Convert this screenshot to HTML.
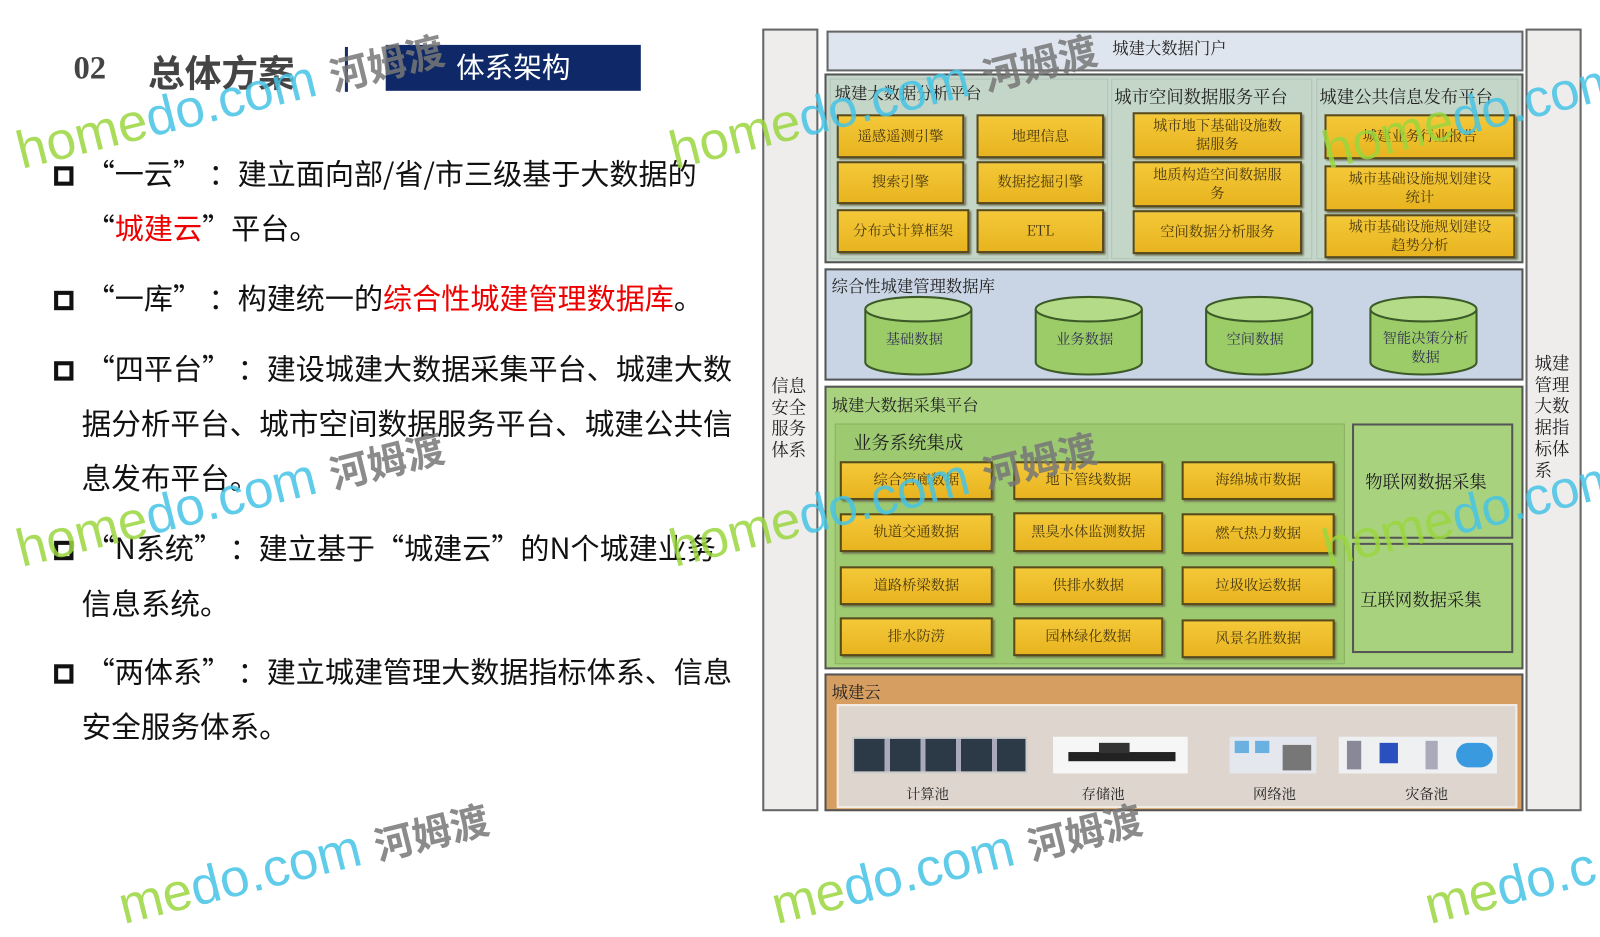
<!DOCTYPE html>
<html><head><meta charset="utf-8"><style>
*{margin:0;padding:0;box-sizing:border-box}
html,body{width:1600px;height:900px;overflow:hidden;background:#fff}
#s{position:absolute;left:0;top:0;width:1568px;height:882px;transform:scale(1.0204);transform-origin:0 0;font-family:"Liberation Sans","Noto Sans CJK SC",sans-serif}
.a{position:absolute}
.t{position:absolute;font-size:28px;color:#111;white-space:nowrap;line-height:1;font-family:"Noto Sans CJK SC",sans-serif}
.t1{left:84px;font-size:28.5px}
.sq{position:absolute;left:53px;width:19px;height:19px;border:4px solid #111}
.r{color:#e00}
.sf{font-family:"Liberation Serif","Noto Serif CJK SC",serif}
.y{position:absolute;background:linear-gradient(#f4c838,#e8b420);border:2px solid #5a4a18;box-shadow:2px 2px 2px #6a6a50;display:flex;align-items:center;justify-content:center;text-align:center;font-family:"Noto Serif CJK SC",serif;font-size:14px;color:#4a3a10;line-height:1.25}
.ttl{position:absolute;font-family:"Noto Serif CJK SC",serif;font-size:16px;color:#222;white-space:nowrap}
.wm{position:absolute;font-size:52px;white-space:nowrap;transform:rotate(-14deg);transform-origin:0 0;opacity:.85}
.wm b{color:#9ad63e;font-weight:normal}.wm i{color:#46c4e6;font-style:normal}
.wm span{color:#777;font-weight:bold;font-size:38px}
</style></head><body><div id="s">
<div class="a sf" style="left:72px;top:48px;font-size:32px;font-weight:bold;color:#444">02</div>
<div class="a" style="left:145px;top:44px;font-size:36px;font-weight:bold;color:#444">总体方案</div>
<div class="a" style="left:338px;top:46px;width:3px;height:44px;background:#1a2f6a"></div>
<div class="a" style="left:378px;top:44px;width:250px;height:45px;background:#0e2868;color:#fff;font-size:28px;text-align:center;line-height:45px">体系架构</div>

<div class="sq" style="top:163px"></div><div class="t t1" style="top:156px">“一云” ：建立面向部/省/市三级基于大数据的</div>
<div class="t t1" style="top:209px">“<span class="r">城建云</span>”平台。</div>
<div class="sq" style="top:285px"></div><div class="t t1" style="top:278px">“一库” ：构建统一的<span class="r">综合性城建管理数据库</span>。</div>
<div class="sq" style="top:354px"></div><div class="t t1" style="top:347px">“四平台” ：建设城建大数据采集平台、城建大数</div>
<div class="t" style="left:80px;top:400px;font-size:29px">据分析平台、城市空间数据服务平台、城建公共信</div>
<div class="t" style="left:80px;top:453px;font-size:29px">息发布平台。</div>
<div class="sq" style="top:530px"></div><div class="t t1" style="top:523px">“N系统” ：建立基于“城建云”的N个城建业务</div>
<div class="t" style="left:80px;top:576px;font-size:29px">信息系统。</div>
<div class="sq" style="top:651px"></div><div class="t t1" style="top:644px">“两体系” ：建立城建管理大数据指标体系、信息</div>
<div class="t" style="left:80px;top:697px;font-size:29px">安全服务体系。</div>

<div class="a" style="left:747px;top:28px;width:55px;height:767px;background:#efecec;border:2px solid #666"></div>
<div class="ttl" style="left:756px;top:366px;font-size:17px;line-height:21px;white-space:normal;width:36px">信息安全服务体系</div>
<div class="a" style="left:1495px;top:28px;width:55px;height:767px;background:#efecec;border:2px solid #666"></div>
<div class="ttl" style="left:1504px;top:344px;font-size:17px;line-height:21px;white-space:normal;width:36px">城建管理大数据指标体系</div>

<div class="a" style="left:810px;top:30px;width:683px;height:40px;background:#dfe5ef;border:2px solid #666"></div>
<div class="ttl" style="left:1090px;top:35px">城建大数据门户</div>

<div class="a" style="left:808px;top:72px;width:685px;height:186px;background:#c6d6cc;border:2px solid #555"></div>
<div class="a" style="left:813px;top:77px;width:273px;height:177px;background:#c4d6c8;border:1px solid #b0c4b4"></div>
<div class="a" style="left:1089px;top:77px;width:197px;height:177px;background:#c4d6c8;border:1px solid #b0c4b4"></div>
<div class="a" style="left:1290px;top:77px;width:198px;height:177px;background:#c4d6c8;border:1px solid #b0c4b4"></div>
<div class="ttl" style="left:818px;top:79px">城建大数据分析平台</div>
<div class="ttl" style="left:1092px;top:81px;font-size:17px">城市空间数据服务平台</div>
<div class="ttl" style="left:1293px;top:81px;font-size:17px">城建公共信息发布平台</div>
<div class="y" style="left:820px;top:112px;width:125px;height:43px">遥感遥测引擎</div>
<div class="y" style="left:957px;top:112px;width:125px;height:43px">地理信息</div>
<div class="y" style="left:820px;top:158px;width:125px;height:42px">搜索引擎</div>
<div class="y" style="left:957px;top:158px;width:125px;height:42px">数据挖掘引擎</div>
<div class="y" style="left:820px;top:205px;width:130px;height:43px">分布式计算框架</div>
<div class="y" style="left:957px;top:205px;width:125px;height:43px">ETL</div>
<div class="y" style="left:1110px;top:110px;width:166px;height:45px">城市地下基础设施数<br>据服务</div>
<div class="y" style="left:1110px;top:158px;width:166px;height:45px">地质构造空间数据服<br>务</div>
<div class="y" style="left:1110px;top:206px;width:166px;height:43px">空间数据分析服务</div>
<div class="y" style="left:1298px;top:112px;width:187px;height:44px">城建业务行业报告</div>
<div class="y" style="left:1298px;top:162px;width:187px;height:45px">城市基础设施规划建设<br>统计</div>
<div class="y" style="left:1298px;top:210px;width:187px;height:43px">城市基础设施规划建设<br>趋势分析</div>

<div class="a" style="left:808px;top:263px;width:685px;height:110px;background:#c9d5e5;border:2px solid #555"></div>
<div class="ttl" style="left:815px;top:268px">综合性城建管理数据库</div>
<svg class="a" style="left:0;top:0" width="1568" height="882">
<g fill="#9ccc68" stroke="#3c5a28" stroke-width="2">
<path d="M848 303 v52 a52 12 0 0 0 104 0 v-52"/><ellipse cx="900" cy="303" rx="52" ry="12" fill="#b4dc88"/>
<path d="M1015 303 v52 a52 12 0 0 0 104 0 v-52"/><ellipse cx="1067" cy="303" rx="52" ry="12" fill="#b4dc88"/>
<path d="M1182 303 v52 a52 12 0 0 0 104 0 v-52"/><ellipse cx="1234" cy="303" rx="52" ry="12" fill="#b4dc88"/>
<path d="M1343 303 v52 a52 12 0 0 0 104 0 v-52"/><ellipse cx="1395" cy="303" rx="52" ry="12" fill="#b4dc88"/>
</g></svg>
<div class="ttl" style="left:868px;top:322px;font-size:14px;color:#335">基础数据</div>
<div class="ttl" style="left:1035px;top:322px;font-size:14px;color:#335">业务数据</div>
<div class="ttl" style="left:1202px;top:322px;font-size:14px;color:#335">空间数据</div>
<div class="ttl" style="left:1355px;top:322px;font-size:14px;color:#335;line-height:19px;white-space:normal;width:84px;text-align:center">智能决策分析数据</div>

<div class="a" style="left:808px;top:378px;width:685px;height:278px;background:#a9d27f;border:2px solid #555"></div>
<div class="ttl" style="left:815px;top:385px">城建大数据采集平台</div>
<div class="a" style="left:818px;top:415px;width:500px;height:236px;background:#9dc971;border:1px solid #8ab060"></div>
<div class="ttl" style="left:836px;top:420px;font-size:18px">业务系统集成</div>
<div class="y" style="left:823px;top:452px;width:150px;height:38px">综合管廊数据</div>
<div class="y" style="left:993px;top:452px;width:147px;height:38px">地下管线数据</div>
<div class="y" style="left:1158px;top:452px;width:150px;height:38px">海绵城市数据</div>
<div class="y" style="left:823px;top:503px;width:150px;height:38px">轨道交通数据</div>
<div class="y" style="left:993px;top:502px;width:147px;height:39px">黑臭水体监测数据</div>
<div class="y" style="left:1158px;top:503px;width:150px;height:40px">燃气热力数据</div>
<div class="y" style="left:823px;top:555px;width:150px;height:38px">道路桥梁数据</div>
<div class="y" style="left:993px;top:555px;width:147px;height:38px">供排水数据</div>
<div class="y" style="left:1158px;top:555px;width:150px;height:38px">垃圾收运数据</div>
<div class="y" style="left:823px;top:605px;width:150px;height:38px">排水防涝</div>
<div class="y" style="left:993px;top:605px;width:147px;height:38px">园林绿化数据</div>
<div class="y" style="left:1158px;top:607px;width:150px;height:38px">风景名胜数据</div>
<div class="a" style="left:1325px;top:415px;width:158px;height:113px;background:#a9d27f;border:2px solid #555"></div>
<div class="ttl" style="left:1338px;top:458px;font-size:17px">物联网数据采集</div>
<div class="a" style="left:1325px;top:532px;width:158px;height:108px;background:#a9d27f;border:2px solid #555"></div>
<div class="ttl" style="left:1333px;top:574px;font-size:17px">互联网数据采集</div>

<div class="a" style="left:808px;top:660px;width:685px;height:135px;background:#d69e60;border:2px solid #555"></div>
<div class="ttl" style="left:815px;top:666px">城建云</div>
<div class="a" style="left:820px;top:690px;width:667px;height:102px;background:#ded6ce;border:2px solid #f2ece6"></div>
<div class="a" style="left:835px;top:722px;width:172px;height:36px;background:repeating-linear-gradient(90deg,#2c3a48 0 30px,#aab 30px 35px);border:2px solid #ccc"></div>
<div class="a" style="left:1032px;top:722px;width:132px;height:36px;background:#f6f6f6"><div class="a" style="left:15px;top:15px;width:105px;height:9px;background:#222"></div><div class="a" style="left:45px;top:6px;width:30px;height:10px;background:#333"></div></div>
<div class="a" style="left:1205px;top:722px;width:85px;height:36px;background:#e4e8ee"><div class="a" style="left:5px;top:4px;width:14px;height:12px;background:#6ab0e0"></div><div class="a" style="left:25px;top:4px;width:14px;height:12px;background:#6ab0e0"></div><div class="a" style="left:52px;top:8px;width:28px;height:25px;background:#777"></div></div>
<div class="a" style="left:1312px;top:722px;width:155px;height:36px;background:#eef0f2"><div class="a" style="left:8px;top:4px;width:14px;height:28px;background:#889"></div><div class="a" style="left:40px;top:6px;width:18px;height:20px;background:#2a50c0"></div><div class="a" style="left:85px;top:4px;width:12px;height:28px;background:#aab"></div><div class="a" style="left:115px;top:6px;width:36px;height:24px;border-radius:12px;background:#3a9ae0"></div></div>
<div class="ttl" style="left:888px;top:768px;font-size:14px">计算池</div>
<div class="ttl" style="left:1060px;top:768px;font-size:14px">存储池</div>
<div class="ttl" style="left:1228px;top:768px;font-size:14px">网络池</div>
<div class="ttl" style="left:1377px;top:768px;font-size:14px">灾备池</div>

<div class="wm" style="left:10px;top:120px"><b>home</b><i>do.com</i> <span>河姆渡</span></div>
<div class="wm" style="left:650px;top:120px"><b>home</b><i>do.com</i> <span>河姆渡</span></div>
<div class="wm" style="left:1290px;top:120px"><b>home</b><i>do.com</i></div>
<div class="wm" style="left:10px;top:510px"><b>home</b><i>do.com</i> <span>河姆渡</span></div>
<div class="wm" style="left:650px;top:510px"><b>home</b><i>do.com</i> <span>河姆渡</span></div>
<div class="wm" style="left:1290px;top:510px"><b>home</b><i>do.com</i></div>
<div class="wm" style="left:110px;top:860px"><b>me</b><i>do.com</i> <span>河姆渡</span></div>
<div class="wm" style="left:750px;top:860px"><b>me</b><i>do.com</i> <span>河姆渡</span></div>
<div class="wm" style="left:1390px;top:860px"><b>me</b><i>do.c</i></div>
</div></body></html>
